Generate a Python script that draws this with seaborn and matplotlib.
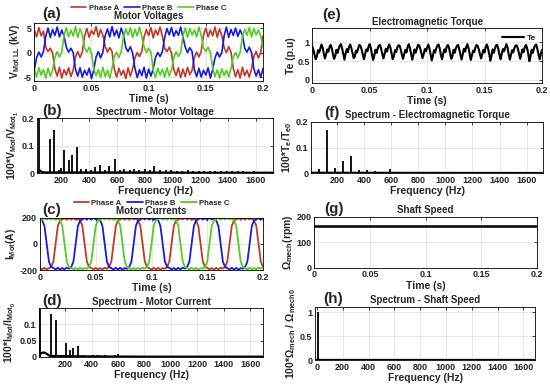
import numpy as np
import matplotlib
matplotlib.use("Agg")
import matplotlib.pyplot as plt
from matplotlib.ticker import FuncFormatter
import seaborn as sns

# sample times (s)
t_wave = np.arange(0, 201, 2) / 1000
t_torque = np.arange(0, 201) / 1000

# line-line motor voltages (kV), one value every 2 ms
v_a = [4.6, 3.2, 5.1, 3.4, 4.4, 1.1, 0.2, 0.9, -0.1,
       -3.3, -4.8, -3.0, -5.2, -3.5, -4.6, -3.1, -4.9, -3.6, -0.9, 0.2, -1.0, 0.1,
       3.4, 4.9, 3.1, 4.5, 3.7, 5.3, 3.2, 4.7, 3.5, 1.2, 0.1, 1.0, 0.2,
       -3.4, -5.0, -3.2, -4.6, -3.6, -5.3, -3.1, -4.8, -3.3, -1.1, 0.0, -0.8, 0.2,
       3.2, 4.7, 3.5, 5.1, 3.0, 4.6, 3.6, 5.2, 3.3, 0.9, 0.2, 1.1, -0.1,
       -3.5, -4.7, -3.1, -5.1, -3.4, -4.9, -3.0, -4.5, -3.6, -1.0, 0.1, -0.9, 0.3,
       3.6, 5.0, 3.2, 4.6, 3.4, 5.2, 3.1, 4.8, 3.5, 1.0, 0.0, 1.2, 0.1,
       -3.2, -4.9, -3.5, -5.2, -3.0, -4.7, -3.6, -5.0, -3.3, -0.8, 0.2, -1.1, 0.0,
       3.4]
v_b = [-3.6, -1.0, 0.1, -0.9, 0.2,
       3.3, 5.0, 3.1, 4.7, 3.5, 5.2, 3.2, 4.6, 3.4, 1.1, 0.1, 0.9, 0.0,
       -3.4, -4.8, -3.1, -5.0, -3.6, -4.6, -3.2, -5.3, -3.5, -0.9, 0.2, -1.1, 0.1,
       3.5, 4.8, 3.2, 5.3, 3.4, 4.6, 3.0, 5.0, 3.6, 1.0, 0.2, 1.2, -0.1,
       -3.2, -5.1, -3.5, -4.7, -3.0, -5.2, -3.4, -4.8, -3.3, -1.0, 0.0, -0.8, 0.2,
       3.1, 4.9, 3.6, 5.1, 3.3, 4.5, 3.5, 5.2, 3.2, 1.1, 0.0, 1.0, 0.2,
       -3.5, -4.9, -3.2, -5.0, -3.6, -4.6, -3.1, -5.2, -3.4, -1.1, 0.1, -0.9, 0.0,
       3.4, 5.2, 3.1, 4.7, 3.5, 5.0, 3.3, 4.6, 3.6, 0.9, 0.1, 1.1, 0.0,
       -3.3, -4.8, -3.5, -5.1, -3.2]
v_c = [-3.4, -5.0, -3.1, -4.6, -3.5, -5.2, -3.2, -4.8, -3.6, -1.0, 0.2, -0.9, 0.1,
       3.5, 5.1, 3.2, 4.6, 3.4, 5.3, 3.1, 4.8, 3.6, 1.0, 0.1, 1.1, -0.1,
       -3.3, -4.7, -3.5, -5.1, -3.0, -4.9, -3.6, -5.2, -3.2, -0.8, 0.1, -1.0, 0.2,
       3.2, 4.8, 3.6, 5.0, 3.1, 4.7, 3.4, 5.2, 3.3, 1.2, 0.0, 0.9, 0.1,
       -3.6, -5.1, -3.2, -4.6, -3.4, -5.0, -3.1, -4.8, -3.5, -1.1, 0.2, -0.8, 0.0,
       3.4, 5.0, 3.1, 4.9, 3.6, 4.6, 3.2, 5.2, 3.5, 1.0, 0.2, 1.1, 0.0,
       -3.1, -4.9, -3.5, -5.2, -3.3, -4.7, -3.6, -5.0, -3.2, -0.9, 0.0, -1.1, 0.1,
       3.3, 4.7, 3.5, 5.1, 3.2, 4.9, 3.6, 4.6, 3.4, 1.0]

# motor phase currents (A), one value every 2 ms
i_a = [-186, -195, -183, -197, -185, -178, -135, 0, 135, 178,
       184, 196, 183, 197, 185, 195, 182, 190, 178, 135, 0, -135, -178,
       -184, -196, -183, -197, -185, -195, -182, -190, -178, -135, 0, 135, 178,
       186, 197, 184, 195, 183, 198, 185, 191, 178, 135, 0, -135, -178,
       -186, -197, -184, -195, -183, -198, -185, -191, -178, -135, 0, 135, 178,
       183, 196, 185, 197, 184, 195, 182, 189, 178, 135, 0, -135, -178,
       -183, -196, -185, -197, -184, -195, -182, -189, -178, -135, 0, 135, 178,
       185, 197, 183, 196, 184, 198, 186, 190, 178, 135, 0, -135, -178]
i_b = [188, 178, 135, 0, -135, -178,
       -184, -196, -183, -197, -185, -195, -182, -190, -178, -135, 0, 135, 178,
       185, 197, 183, 196, 184, 198, 186, 190, 178, 135, 0, -135, -178,
       -186, -197, -184, -195, -183, -198, -185, -191, -178, -135, 0, 135, 178,
       183, 196, 185, 197, 184, 195, 182, 189, 178, 135, 0, -135, -178,
       -183, -196, -185, -197, -184, -195, -182, -189, -178, -135, 0, 135, 178,
       186, 197, 184, 195, 183, 198, 185, 191, 178, 135, 0, -135, -178,
       -185, -197, -183, -196, -184, -198, -186, -190, -178, -135, 0, 135, 178,
       184, 196, 183, 197]
i_c = [178, 184, 196, 183, 197, 185, 195, 182, 190, 178, 135, 0, -135, -178,
       -186, -197, -184, -195, -183, -198, -185, -191, -178, -135, 0, 135, 178,
       183, 196, 185, 197, 184, 195, 182, 189, 178, 135, 0, -135, -178,
       -183, -196, -185, -197, -184, -195, -182, -189, -178, -135, 0, 135, 178,
       186, 197, 184, 195, 183, 198, 185, 191, 178, 135, 0, -135, -178,
       -185, -197, -183, -196, -184, -198, -186, -190, -178, -135, 0, 135, 178,
       185, 197, 183, 196, 184, 198, 186, 190, 178, 135, 0, -135, -178,
       -184, -196, -183, -197, -185, -195, -182, -190, -178]

# electromagnetic torque (p.u), one value every 1 ms
torque = [0.88, 0.80, 0.66, 0.55, 0.63, 0.79, 0.73, 0.84, 0.94, 0.86, 0.70, 0.57, 0.68, 0.81, 0.75, 0.87, 0.93,
          0.84, 0.68, 0.56, 0.64, 0.80, 0.72, 0.83, 0.92, 0.95, 0.83, 0.69, 0.54, 0.70, 0.82, 0.74, 0.88, 0.94,
          0.85, 0.71, 0.58, 0.62, 0.78, 0.73, 0.85, 0.93, 0.90, 0.80, 0.66, 0.55, 0.69, 0.81, 0.76, 0.89, 0.95,
          0.84, 0.67, 0.53, 0.65, 0.80, 0.72, 0.84, 0.91, 0.93, 0.82, 0.68, 0.57, 0.70, 0.83, 0.75, 0.87, 0.94,
          0.86, 0.70, 0.55, 0.63, 0.79, 0.74, 0.86, 0.92, 0.91, 0.81, 0.67, 0.56, 0.68, 0.80, 0.73, 0.88, 0.95,
          0.85, 0.69, 0.54, 0.66, 0.81, 0.72, 0.83, 0.93, 0.92, 0.83, 0.70, 0.58, 0.69, 0.82, 0.76, 0.86, 0.94,
          0.84, 0.68, 0.52, 0.64, 0.79, 0.73, 0.85, 0.92, 0.94, 0.82, 0.66, 0.55, 0.70, 0.81, 0.74, 0.88, 0.93,
          0.86, 0.71, 0.56, 0.63, 0.80, 0.72, 0.84, 0.91, 0.93, 0.80, 0.67, 0.54, 0.68, 0.83, 0.75, 0.87, 0.95,
          0.85, 0.69, 0.53, 0.65, 0.78, 0.74, 0.86, 0.93, 0.90, 0.81, 0.68, 0.57, 0.69, 0.80, 0.73, 0.88, 0.94,
          0.84, 0.70, 0.51, 0.64, 0.81, 0.72, 0.83, 0.92, 0.93, 0.82, 0.66, 0.55, 0.70, 0.82, 0.76, 0.86, 0.95,
          0.86, 0.68, 0.54, 0.66, 0.79, 0.73, 0.85, 0.91, 0.92, 0.83, 0.69, 0.56, 0.68, 0.81, 0.74, 0.87, 0.93,
          0.85, 0.70, 0.50, 0.63, 0.80, 0.72, 0.84, 0.92, 0.94,
          0.82, 0.67, 0.55, 0.69, 0.80]

# shaft speed (rpm)
t_speed = [0.0, 0.2]
speed = [163, 163]

# spectra: harmonic lines and noise floor
v_harm_f = [35, 114, 148, 185, 198, 220, 251, 272, 311, 340, 376, 410, 438, 479, 510, 544, 582,
            620, 650, 690, 725, 760, 800, 840, 870, 910, 950, 990, 1030, 1070, 1110, 1150, 1190,
            1230, 1270, 1310, 1350, 1390, 1430, 1470, 1510, 1550, 1590, 1630, 1670, 1710]
v_harm_a = [0.21, 0.123, 0.157, 0.012, 0.018, 0.085, 0.047, 0.066, 0.096, 0.015, 0.016, 0.012, 0.022,
            0.030, 0.012, 0.027, 0.052, 0.012, 0.016, 0.013, 0.016, 0.012, 0.014, 0.012, 0.028, 0.012,
            0.012, 0.013, 0.010, 0.010, 0.011, 0.009, 0.010, 0.008, 0.009, 0.008, 0.008, 0.007, 0.008,
            0.007, 0.007, 0.006, 0.007, 0.006, 0.006, 0.005]
v_floor_f = [25, 40, 55, 80, 120, 200, 400, 800, 1200, 1725]
v_floor_a = [0.004, 0.012, 0.005, 0.003, 0.003, 0.003, 0.003, 0.003, 0.002, 0.002]

i_harm_f = [12, 91, 129, 170, 208, 240, 258, 296, 335, 370, 410, 450, 500, 540, 580, 600,
            660, 700, 760, 820, 900, 1000]
i_harm_a = [0.148, 0.133, 0.112, 0.006, 0.043, 0.020, 0.028, 0.035, 0.006, 0.004, 0.005, 0.006,
            0.006, 0.004, 0.005, 0.010, 0.003, 0.004, 0.003, 0.003, 0.003, 0.002]
i_floor_f = [5, 20, 40, 60, 80, 120, 300, 800, 1700]
i_floor_a = [0.004, 0.012, 0.014, 0.010, 0.004, 0.003, 0.002, 0.001, 0.001]

te_harm_f = [69, 128, 187, 246, 303, 364, 420, 480, 536, 595, 655, 715, 775, 835, 895,
             955, 1015, 1075, 1135, 1195]
te_harm_a = [0.015, 0.166, 0.020, 0.046, 0.066, 0.012, 0.012, 0.008, 0.006, 0.015, 0.005,
             0.006, 0.004, 0.004, 0.005, 0.003, 0.003, 0.003, 0.002, 0.003]
te_floor_f = [10, 1720]
te_floor_a = [0.002, 0.001]

w_harm_f = [8]
w_harm_a = [1.0]
w_floor_f = [-15, 1690]
w_floor_a = [0.0, 0.0]

phase_names = ["Phase A", "Phase B", "Phase C"]
phase_colors = ["#c0392b", "#1a1adb", "#55cc22"]

sns.set_style("white")
plt.rcParams['font.family'] = ['Liberation Sans', 'DejaVu Sans']
plt.rcParams['font.weight'] = 'bold'
plt.rcParams['axes.labelweight'] = 'bold'
plt.rcParams['axes.titleweight'] = 'bold'
plt.rcParams['mathtext.fontset'] = 'custom'
plt.rcParams['mathtext.rm'] = 'Liberation Sans:bold'
plt.rcParams['mathtext.it'] = 'Liberation Sans:bold'
plt.rcParams['mathtext.bf'] = 'Liberation Sans:bold'
plt.rcParams['mathtext.default'] = 'bf'

fig = plt.figure(figsize=(5.5, 3.9), dpi=100)
W, H = 550, 390


def add_axes(left, top, right, bottom):
    return fig.add_axes([left / W, 1 - bottom / H, (right - left) / W, (bottom - top) / H])


def style(ax, xlim, ylim, xticks, yticks, xlabel, ylabel, title):
    ax.set_xlim(xlim)
    ax.set_ylim(ylim)
    ax.set_xticks(xticks)
    ax.set_yticks(yticks)
    fmt = FuncFormatter(lambda v, p: f"{v:g}")
    ax.xaxis.set_major_formatter(fmt)
    ax.yaxis.set_major_formatter(fmt)
    ax.grid(True, color='#dddddd', lw=0.5)
    ax.set_axisbelow(True)
    ax.tick_params(direction='in', length=2.5, width=0.6, labelsize=6.5, pad=2,
                   top=True, right=True)
    for s in ax.spines.values():
        s.set_linewidth(0.6)
        s.set_color('black')
    ax.set_xlabel(xlabel, fontsize=7.5, labelpad=1)
    ax.set_ylabel(ylabel, fontsize=7.5, labelpad=1)
    ax.set_title(title, fontsize=7, pad=2.5)


def phase_plot(ax, t, series, lw):
    for y, name, col in zip(series, phase_names, phase_colors):
        sns.lineplot(x=t, y=y, color=col, lw=lw, label=name, ax=ax)


def phase_legend(ax, y):
    ax.legend(ncol=3, loc='center', bbox_to_anchor=(0.5, y), frameon=False,
              fontsize=5.6, handlelength=2.0, columnspacing=0.7, handletextpad=0.3,
              borderaxespad=0, borderpad=0)


def spectrum(ax, hf, ha, ff, fa):
    ax.vlines(hf, 0, ha, color='black', lw=1.3)
    sns.lineplot(x=ff, y=fa, color='black', lw=1.6, ax=ax)


time_ticks = [0, 0.05, 0.1, 0.15, 0.2]
freq_ticks = [200, 400, 600, 800, 1000, 1200, 1400, 1600]

# (a) motor voltages
ax = add_axes(34.3, 22.7, 263, 81)
phase_plot(ax, t_wave, [v_a, v_b, v_c], 1.2)
style(ax, (0, 0.2), (-5.8, 6.1), time_ticks, [-5, 0, 5], "Time (s)",
      r"V$_{Mot\ LL}$ (kV)", "Motor Voltages")
phase_legend(ax, 1.25)

# (b) voltage spectrum
ax = add_axes(37.3, 118.3, 273, 173.3)
spectrum(ax, v_harm_f, v_harm_a, v_floor_f, v_floor_a)
style(ax, (25, 1725), (0, 0.2), freq_ticks, [0, 0.1, 0.2], "Frequency (Hz)",
      r"100*V$_{Mot}$/V$_{Mot_1}$", "Spectrum - Motor Voltage")

# (c) motor currents
ax = add_axes(40, 217.5, 263, 270)
phase_plot(ax, t_wave, [i_a, i_b, i_c], 1.3)
style(ax, (0, 0.2), (-200, 200), time_ticks, [-200, 0, 200], "Time (s)",
      r"I$_{Mot}$(A)", "Motor Currents")
phase_legend(ax, 1.28)

# (d) current spectrum
ax = add_axes(39.3, 308, 263.3, 357)
spectrum(ax, i_harm_f, i_harm_a, i_floor_f, i_floor_a)
style(ax, (5, 1700), (0, 0.15), freq_ticks, [0, 0.05, 0.1], "Frequency (Hz)",
      r"100*I$_{Mot}$/I$_{Mot_0}$", "Spectrum - Motor Current")

# (e) torque
ax = add_axes(312.3, 28.3, 542, 83)
sns.lineplot(x=t_torque, y=torque, color='black', lw=1.5, label='Te', ax=ax)
style(ax, (0, 0.2), (-0.08, 1.37), time_ticks, [0, 0.5, 1], "Time (s)",
      "Te (p.u)", "Electromagnetic Torque")
ax.legend(loc='upper right', frameon=False, fontsize=6, handlelength=2.6,
          handletextpad=0.4, borderaxespad=0.3)

# (f) torque spectrum
ax = add_axes(311, 121.7, 543, 173.3)
spectrum(ax, te_harm_f, te_harm_a, te_floor_f, te_floor_a)
style(ax, (10, 1720), (0, 0.2), freq_ticks, [0, 0.1, 0.2], "Frequency (Hz)",
      r"100*T$_e$/T$_{e0}$", "Spectrum - Electromagnetic Torque")

# (g) shaft speed
ax = add_axes(314.3, 216.7, 536.7, 267.7)
sns.lineplot(x=t_speed, y=speed, color='black', lw=1.8, ax=ax)
style(ax, (0, 0.2), (0, 200), time_ticks, [0, 100, 200], "Time (s)",
      r"Ω$_{mech}$(rpm)", "Shaft Speed")

# (h) speed spectrum
ax = add_axes(315, 306.7, 535, 360)
spectrum(ax, w_harm_f, w_harm_a, w_floor_f, w_floor_a)
style(ax, (-15, 1690), (0, 1.12), [0] + freq_ticks, [0, 0.5, 1], "Frequency (Hz)",
      r"100*Ω$_{mech}$ / Ω$_{mech0}$", "Spectrum - Shaft Speed")

# panel letters
for lab, x, y in [("(a)", 52, 14), ("(b)", 52, 111), ("(c)", 52, 210), ("(d)", 52, 301),
                  ("(e)", 332, 15), ("(f)", 332, 113), ("(g)", 334, 209), ("(h)", 333, 299)]:
    fig.text(x / W, 1 - y / H, lab, ha='center', va='center', fontsize=11, fontweight='bold')

fig.savefig("out.png", dpi=100)
